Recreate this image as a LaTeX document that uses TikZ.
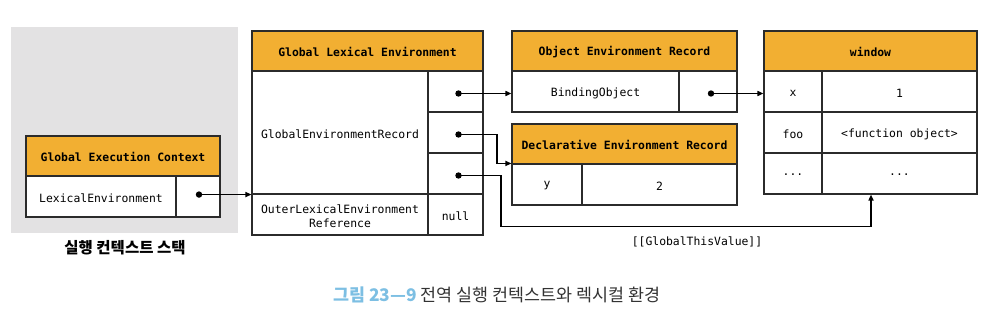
\documentclass[tikz,border=0pt]{standalone}
\usepackage{fontspec}
\setmonofont{DejaVu Sans Mono}
\newfontfamily\kr{Noto Sans CJK KR}
\usetikzlibrary{fit,arrows.meta}
\definecolor{hdrcol}{HTML}{F2AF32}
\definecolor{bgcol}{HTML}{E3E2E3}
\definecolor{bordercol}{HTML}{2B2B2B}
\definecolor{capblue}{HTML}{7DBFE3}
\definecolor{captext}{HTML}{333333}
\tikzset{
  box/.style={draw=bordercol, line width=1.1pt, inner sep=0pt},
  hdr/.style={box, fill=hdrcol},
  cell/.style={box, fill=white},
  ht/.style={label={[font=\ttfamily\bfseries\fontsize{11.4}{13}\selectfont, inner sep=0pt, yshift=-1pt]center:#1}},
  ct/.style={label={[font=\ttfamily\fontsize{11.4}{14}\selectfont, inner sep=0pt, align=center, yshift=-1.5pt]center:#1}},
  conn/.style={line width=1.6pt, draw=black, -{Triangle[length=6pt,width=5pt]}},
  dot/.style={fill=black},
}
\begin{document}
\begin{tikzpicture}[x=1pt,y=-1pt]
\useasboundingbox (0,0) rectangle (1008,321);
% execution context stack background
\fill[bgcol] (11,27) rectangle (238,233);
% Global Execution Context
\node[hdr, fit={(26,136)(220,176)}, ht={Global Execution Context}] (gec-h) {};
\node[cell, fit={(26,176)(176,217)}, ct={LexicalEnvironment}] (gec-l) {};
\node[cell, fit={(176,176)(220,217)}] (gec-p) {};
\node[font=\kr\bfseries\fontsize{15.5}{17}\selectfont] (stack) at (125,247.5) {실행 컨텍스트 스택};
% Global Lexical Environment
\node[hdr, fit={(252,31)(483,71)}, ht={Global Lexical Environment}] (gle-h) {};
\node[cell, fit={(252,71)(428,194)}, ct={GlobalEnvironmentRecord}] (gle-rec) {};
\node[cell, fit={(428,71)(483,112)}] (gle-r1) {};
\node[cell, fit={(428,112)(483,153)}] (gle-r2) {};
\node[cell, fit={(428,153)(483,194)}] (gle-r3) {};
\node[cell, fit={(252,194)(428,235)}, ct={OuterLexicalEnvironment\\Reference}] (gle-outer) {};
\node[cell, fit={(428,194)(483,235)}, ct={null}] (gle-null) {};
% Object Environment Record
\node[hdr, fit={(512,31)(737,71)}, ht={Object Environment Record}] (oer-h) {};
\node[cell, fit={(512,71)(679,112)}, ct={BindingObject}] (oer-b) {};
\node[cell, fit={(679,71)(737,112)}] (oer-p) {};
% Declarative Environment Record
\node[hdr, fit={(512,124)(737,164)}, ht={Declarative Environment Record}] (der-h) {};
\node[cell, fit={(512,164)(582,205)}, ct={y}] (der-y) {};
\node[cell, fit={(582,164)(737,205)}, ct={2}] (der-v) {};
% window
\node[hdr, fit={(764,31)(977,71)}, ht={window}] (win-h) {};
\node[cell, fit={(764,71)(822,112)}, ct={x}] (win-k1) {};
\node[cell, fit={(822,71)(977,112)}, ct={1}] (win-v1) {};
\node[cell, fit={(764,112)(822,153)}, ct={foo}] (win-k2) {};
\node[cell, fit={(822,112)(977,153)}, ct={<function object>}] (win-v2) {};
\node[cell, fit={(764,153)(822,194)}, ct={...}] (win-k3) {};
\node[cell, fit={(822,153)(977,194)}, ct={...}] (win-v3) {};
% dots
\coordinate (d0) at ([xshift=1pt]gec-p.center |- gle-rec.south);
\coordinate (d1) at ([xshift=3pt,yshift=-2pt]gle-r1.center);
\coordinate (d2) at ([xshift=3pt,yshift=-2pt]gle-r2.center);
\coordinate (d3) at ([xshift=3pt,yshift=-2pt]gle-r3.center);
\coordinate (d4) at ([xshift=3pt,yshift=-2pt]oer-p.center);
\foreach \d in {d0,d1,d2,d3,d4} \fill[dot] (\d) circle (3.2pt);
% connectors
\draw[conn] (d0) -- (gle-rec.south west);
\draw[conn] (d1) -- (d1 -| oer-b.west);
\draw[conn] (d4) -- (d4 -| win-k1.west);
\draw[conn] (d2) -- ++(38.5,0) |- (der-y.north west);
\draw[conn] (d3) -- ++(42.5,0) -- ++(0,51) -| ([xshift=-28.5pt]win-v3.south);
\node[font=\ttfamily\fontsize{11.4}{13}\selectfont] (gtv) at (697,242.3) {[[GlobalThisValue]]};
% caption
\node[font=\kr\fontsize{17.4}{19}\selectfont, text=captext] (cap) at (496.7,295)
  {{\bfseries\color{capblue}그림 23—9} 전역 실행 컨텍스트와 렉시컬 환경};
\end{tikzpicture}
\end{document}
